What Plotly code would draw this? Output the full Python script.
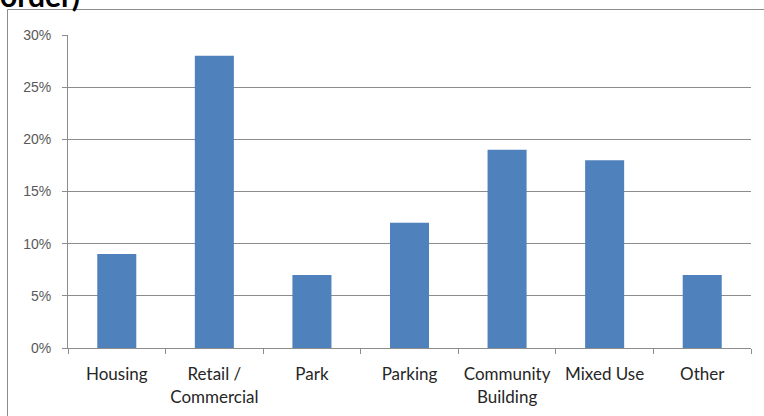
import plotly.graph_objects as go

categories = ["Housing", "Retail /<br>Commercial", "Park", "Parking", "Community<br>Building", "Mixed Use", "Other"]
values = [0.09, 0.28, 0.07, 0.12, 0.19, 0.18, 0.07]
y_ticks = [0, 0.05, 0.10, 0.15, 0.20, 0.25, 0.30]
y_tick_labels = ["0%", "5%", "10%", "15%", "20%", "25%", "30%"]

W, H = 764, 416
L, R, T, B = 68, 13, 35, 68
pw, ph = W - L - R, H - T - B

def px_x(p):
    return (p - L) / pw

def px_y(p):
    return (H - B - p) / ph

fig = go.Figure(go.Bar(x=categories, y=values, marker_color="#4F81BD",
                       marker_line_width=0))

fig.update_layout(
    width=W, height=H,
    margin=dict(l=L, r=R, t=T, b=B, autoexpand=False),
    paper_bgcolor="white", plot_bgcolor="white",
    bargap=0.6,
    showlegend=False,
    xaxis=dict(
        automargin=False,
        showline=True, linecolor="#8c8c8c", linewidth=1,
        ticks="outside", tickson="boundaries", ticklen=5, tickcolor="#8c8c8c",
        tickfont=dict(family="Lato", size=17, color="#262626"),
        showgrid=False, ticklabelstandoff=11,
    ),
    yaxis=dict(
        automargin=False,
        range=[0, 0.30], tickvals=y_ticks, ticktext=y_tick_labels,
        showline=True, linecolor="#8c8c8c", linewidth=1,
        ticks="outside", ticklen=5, tickcolor="#8c8c8c",
        tickfont=dict(family="Liberation Sans", size=14, color="#595959"),
        showgrid=True, gridcolor="#8c8c8c", gridwidth=1,
        zeroline=False, ticklabelstandoff=8,
    ),
    shapes=[dict(type="rect", xref="paper", yref="paper",
                 x0=px_x(7.5), x1=px_x(800), y0=px_y(440), y1=px_y(9.5),
                 line=dict(color="#8c8c8c", width=1), fillcolor="rgba(0,0,0,0)",
                 layer="below")],
    annotations=[dict(text="<b>order)</b>", xref="paper", yref="paper",
                      x=px_x(-2), y=px_y(-5), xanchor="left", yanchor="middle",
                      showarrow=False, font=dict(family="Lato", size=30, color="black"))],
)

fig.write_html("out.html", config={"displayModeBar": False},
               post_script="document.body.style.margin='0';document.body.style.overflow='hidden';")
